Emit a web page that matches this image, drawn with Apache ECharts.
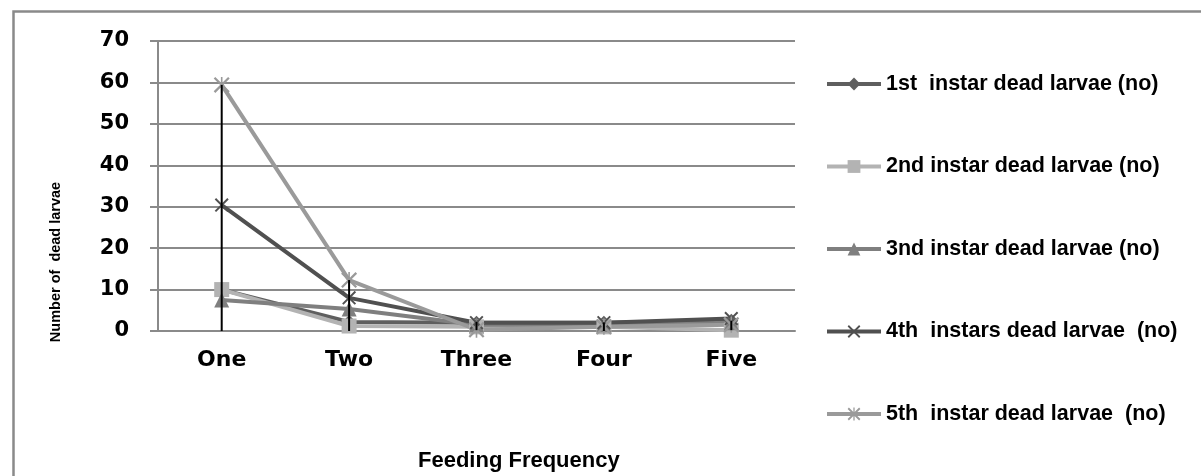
<!DOCTYPE html>
<html>
<head>
<meta charset="utf-8">
<script src="https://cdn.jsdelivr.net/npm/echarts@6/dist/echarts.min.js"></script>
<style>
html, body { margin: 0; padding: 0; background: #fff; }
#main { width: 1201px; height: 476px; }
</style>
</head>
<body>
<div id="main"></div>
<script>
var categories = ['One', 'Two', 'Three', 'Four', 'Five'];
var first = [10, 2.2, 2, 2, 2.5];
var second = [10, 1.2, 1, 1, 0.2];
var third = [7.5, 5.3, 1.5, 1.5, 2];
var fourth = [30.4, 8, 2, 2, 3];
var fifth = [59.4, 12.3, 0.3, 1, 1.5];
var barLow = [0, 0, 0.2, 0, 0.2];
var barHigh = [59.4, 12.3, 2.2, 2.1, 2.5];
var yTicks = [0, 10, 20, 30, 40, 50, 60, 70];

var names = [
    '1st  instar dead larvae (no)',
    '2nd instar dead larvae (no)',
    '3nd instar dead larvae (no)',
    '4th  instars dead larvae  (no)',
    '5th  instar dead larvae  (no)'
];

var crossPath = 'path://M0,1 L1,0 L10,9 L9,10 Z M9,0 L10,1 L1,10 L0,9 Z';
var starPath = 'path://M0,1 L1,0 L10,9 L9,10 Z M9,0 L10,1 L1,10 L0,9 Z M4.5,0 L5.5,0 L5.5,10 L4.5,10 Z';

var dom = document.getElementById('main');
var myChart = echarts.init(dom);

function lineSeries(name, data, color, symbol, size) {
    return {
        name: name,
        type: 'line',
        data: data,
        symbol: symbol,
        symbolSize: size,
        lineStyle: { color: color, width: 4 },
        itemStyle: { color: color },
        z: 2
    };
}

var option = {
    animation: false,
    backgroundColor: '#fff',
    textStyle: { fontFamily: 'Liberation Sans, Arial, sans-serif' },
    graphic: [
        {
            type: 'rect',
            left: 11, top: 9,
            shape: { width: 1210, height: 490 },
            style: { fill: 'none', stroke: '#8a8a8a', lineWidth: 2.5 }
        },
        {
            type: 'text',
            left: 418, top: 450,
            style: {
                text: 'Feeding Frequency',
                font: 'bold 22px "Liberation Sans", Arial, sans-serif',
                fill: '#000'
            }
        },
        {
            type: 'text',
            x: 56, y: 262,
            rotation: Math.PI / 2,
            style: {
                text: 'Number of  dead larvae',
                font: 'bold 14.5px "Liberation Sans", Arial, sans-serif',
                fill: '#000',
                align: 'center',
                verticalAlign: 'middle'
            }
        }
    ],
    legend: {
        orient: 'vertical',
        left: 825,
        top: 69,
        padding: 0,
        itemWidth: 54,
        itemHeight: 16,
        itemGap: 52.5,
        data: names,
        lineStyle: { width: 4 },
        textStyle: {
            fontSize: 21.5,
            fontWeight: 'bold',
            color: '#000',
            lineHeight: 30,
            fontFamily: 'Liberation Sans, Arial, sans-serif'
        }
    },
    grid: { left: 158, right: 406, top: 41, bottom: 145 },
    xAxis: {
        type: 'category',
        data: categories,
        boundaryGap: true,
        axisLine: { lineStyle: { color: '#8a8a8a', width: 2 } },
        axisTick: { show: false },
        axisLabel: {
            color: '#000',
            fontSize: 22,
            fontWeight: 'bold',
            fontFamily: 'DejaVu Sans, sans-serif',
            margin: 18
        }
    },
    yAxis: {
        type: 'value',
        min: yTicks[0],
        max: yTicks[yTicks.length - 1],
        interval: 10,
        axisLine: { show: true, lineStyle: { color: '#8a8a8a', width: 2 } },
        axisTick: { show: true, length: 8, lineStyle: { color: '#8a8a8a', width: 2 } },
        splitLine: { lineStyle: { color: '#8a8a8a', width: 2 } },
        axisLabel: {
            color: '#000',
            fontSize: 21,
            fontWeight: 'bold',
            fontFamily: 'DejaVu Sans, sans-serif',
            margin: 29
        }
    },
    series: [
        lineSeries(names[0], first, '#5f5f5f', 'diamond', 14),
        lineSeries(names[1], second, '#b3b3b3', 'rect', 15),
        lineSeries(names[2], third, '#7f7f7f', 'triangle', 15),
        lineSeries(names[3], fourth, '#505050', crossPath, 14),
        lineSeries(names[4], fifth, '#9a9a9a', starPath, 16),
        {
            name: 'hilo',
            type: 'custom',
            z: 5,
            renderItem: function (params, api) {
                var i = api.value(0);
                var lo = api.coord([i, api.value(1)]);
                var hi = api.coord([i, api.value(2)]);
                return {
                    type: 'line',
                    shape: { x1: lo[0], y1: lo[1], x2: hi[0], y2: hi[1] },
                    style: { stroke: '#000', lineWidth: 2 }
                };
            },
            encode: { x: 0, y: [1, 2] },
            data: categories.map(function (c, i) { return [i, barLow[i], barHigh[i]]; })
        }
    ]
};

myChart.setOption(option, true);
</script>
</body>
</html>
